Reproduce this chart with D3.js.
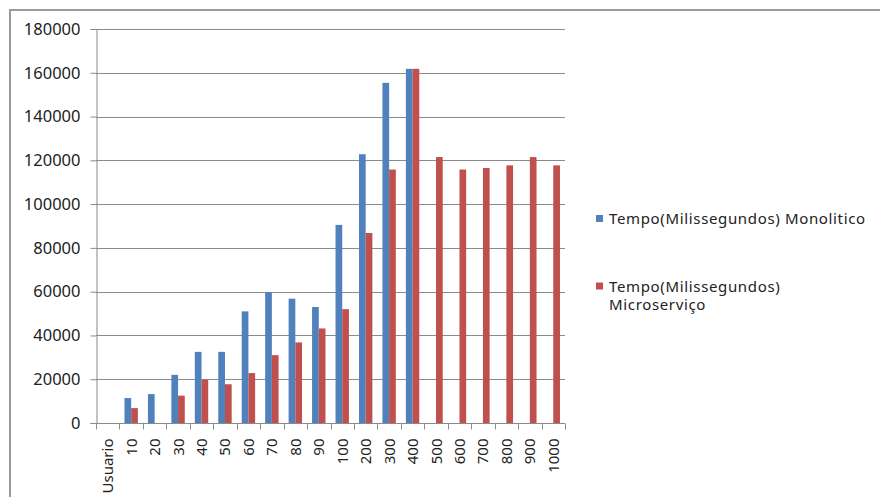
<!DOCTYPE html>
<html>
<head>
<meta charset="utf-8">
<script src="https://cdn.jsdelivr.net/npm/d3@7"></script>
<style>
  html, body { margin: 0; padding: 0; background: #fff; }
  svg { display: block; font-family: "Noto Sans", "Open Sans", sans-serif; }
</style>
</head>
<body>
<svg id="chart" width="880" height="499"></svg>
<script>
// Load-test results: response time per number of users
const categories = ["Usuario", "10", "20", "30", "40", "50", "60", "70", "80", "90", "100",
                    "200", "300", "400", "500", "600", "700", "800", "900", "1000"];
const monolitico   = [null, 11400, 13200, 22000, 32500, 32500, 51000, 59800, 56800, 53000, 90500,
                      122800, 155400, 161800, null, null, null, null, null, null];
const microservico = [null, 6800, null, 12500, 19800, 17700, 22800, 31000, 36800, 43200, 52000,
                      86800, 115800, 161800, 121500, 115800, 116500, 117700, 121500, 117700];
const yTicks = [0, 20000, 40000, 60000, 80000, 100000, 120000, 140000, 160000, 180000];
const seriesColors = ["#4F81BD", "#C0504D"];

const svg = d3.select("#chart");
const plot = { left: 96, right: 565, top: 29, bottom: 423 };

// Outer chart frame (top and left edges visible)
svg.append("path")
  .attr("d", `M10,497 L10,10 L880,10`)
  .attr("fill", "none").attr("stroke", "#9a9a9a").attr("stroke-width", 2);

const x = d3.scaleBand().domain(categories).range([plot.left, plot.right]);
const y = d3.scaleLinear().domain([0, 180000]).range([plot.bottom, plot.top]);
const inner = d3.scaleBand().domain([0, 1]).range([0, x.bandwidth()]).paddingInner(0).paddingOuter(0.75);

// Horizontal gridlines
svg.append("g").selectAll("line").data(yTicks.filter(d => d > 0)).join("line")
  .attr("x1", plot.left).attr("x2", plot.right)
  .attr("y1", d => Math.round(y(d)) + 0.5).attr("y2", d => Math.round(y(d)) + 0.5)
  .attr("stroke", "#8a8a8a").attr("stroke-width", 1);

// Bars
const seriesData = [monolitico, microservico];
seriesData.forEach((vals, si) => {
  svg.append("g").selectAll("rect")
    .data(categories.map((c, i) => ({ c, v: vals[i] })).filter(d => d.v != null))
    .join("rect")
    .attr("x", d => x(d.c) + inner(si))
    .attr("width", inner.bandwidth())
    .attr("y", d => y(d.v))
    .attr("height", d => y(0) - y(d.v))
    .attr("fill", seriesColors[si]);
});

// Y axis
const yAxis = svg.append("g").attr("transform", `translate(${plot.left + 0.5},0)`)
  .call(d3.axisLeft(y).tickValues(yTicks).tickSize(6).tickPadding(10).tickFormat(d3.format("d")));
yAxis.select(".domain").attr("stroke", "#8a8a8a");
yAxis.selectAll(".tick line").attr("stroke", "#8a8a8a");
yAxis.selectAll("text").attr("font-size", 16.5).attr("fill", "#222")
  .attr("font-family", "'Noto Sans', sans-serif");

// X axis with ticks on category boundaries
const xAxis = svg.append("g").attr("transform", `translate(0,${plot.bottom + 0.5})`);
xAxis.append("line").attr("x1", plot.left).attr("x2", plot.right)
  .attr("stroke", "#8a8a8a");
xAxis.selectAll("line.tk").data(categories.concat(["__end"])).join("line")
  .attr("class", "tk")
  .attr("x1", (d, i) => Math.round(plot.left + i * x.step()) + 0.5)
  .attr("x2", (d, i) => Math.round(plot.left + i * x.step()) + 0.5)
  .attr("y1", 0).attr("y2", 6).attr("stroke", "#8a8a8a");
xAxis.selectAll("text").data(categories).join("text")
  .attr("transform", d => `translate(${x(d) + x.bandwidth() / 2 + 5.5},15) rotate(-90)`)
  .attr("text-anchor", "end")
  .attr("font-size", 15).attr("fill", "#222")
  .text(d => d);

// Legend
const legend = svg.append("g");
const legendRows = [
  { lines: ["Tempo(Milissegundos) Monolitico"], y: 218.5, color: seriesColors[0] },
  { lines: ["Tempo(Milissegundos)", "Microserviço"], y: 286, color: seriesColors[1] }
];
legendRows.forEach(r => {
  legend.append("rect").attr("x", 596).attr("y", r.y - 3.5).attr("width", 7).attr("height", 7)
    .attr("fill", r.color);
  r.lines.forEach((t, k) => {
    legend.append("text").attr("x", 609).attr("y", r.y + 5.5 + k * 18.5)
      .attr("font-size", 15).attr("letter-spacing", 0.65).attr("fill", "#222").text(t);
  });
});
</script>
</body>
</html>
